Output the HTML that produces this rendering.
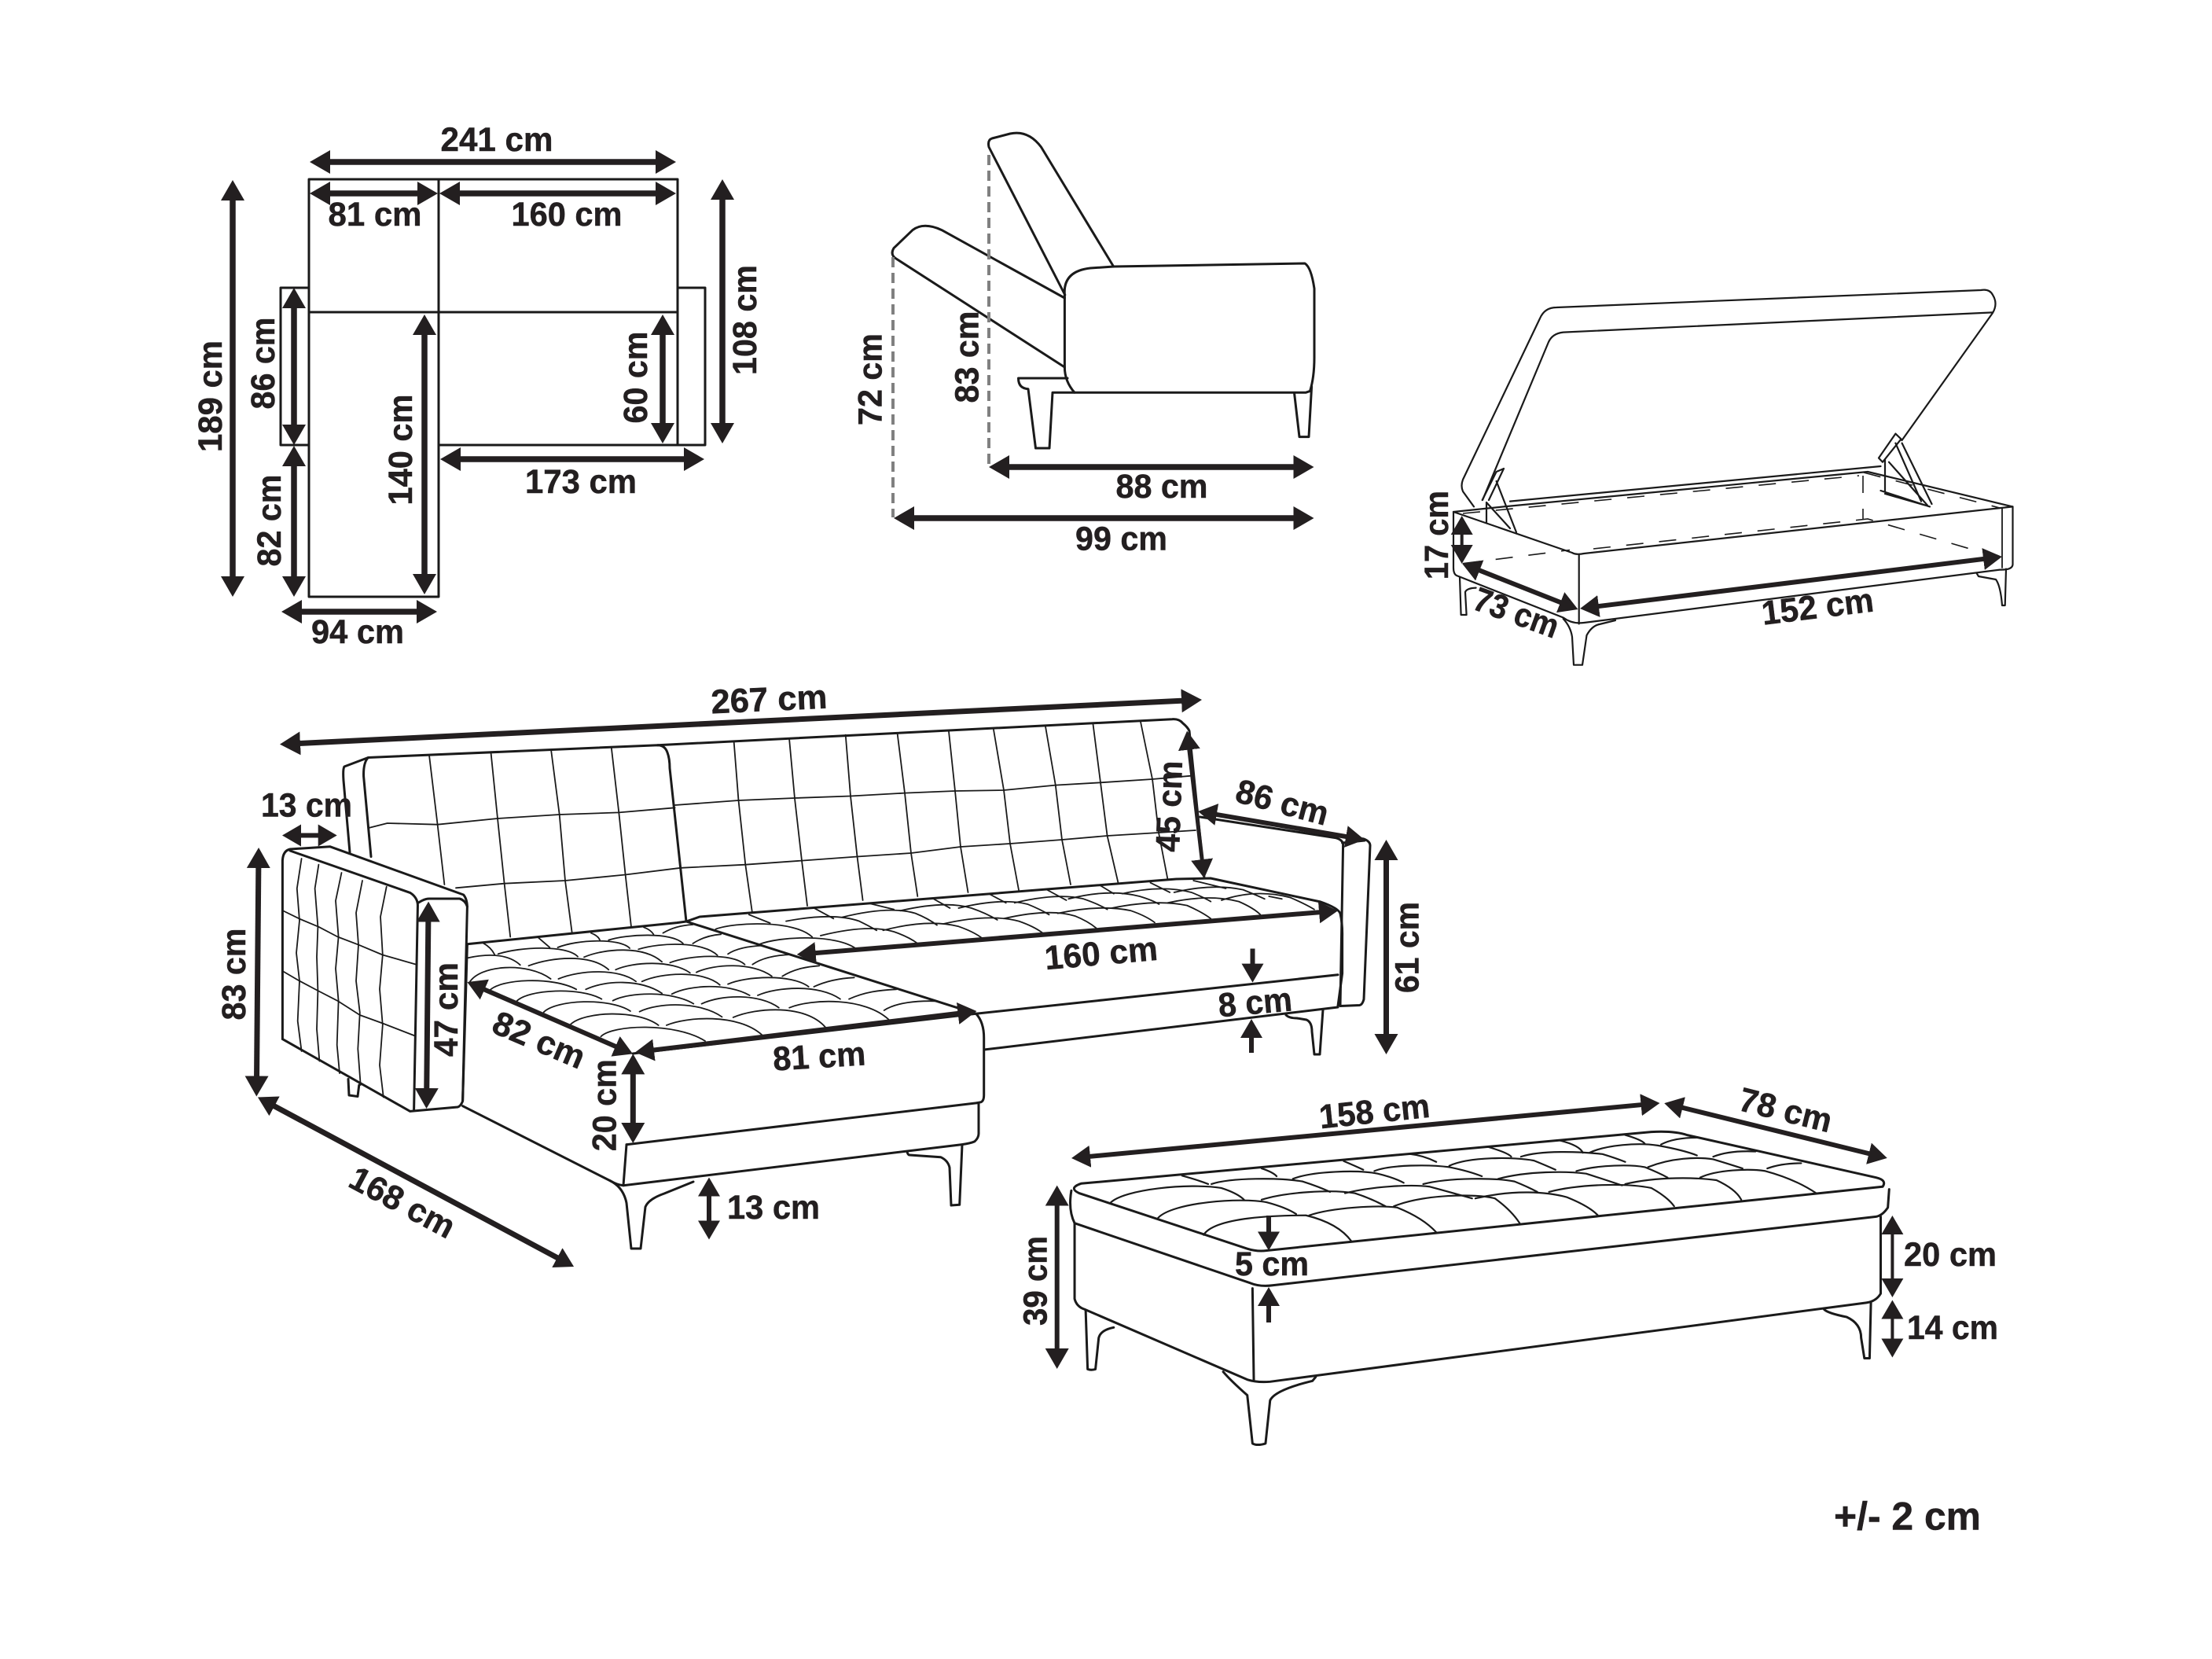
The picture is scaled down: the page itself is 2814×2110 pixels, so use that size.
<!DOCTYPE html>
<html><head><meta charset="utf-8"><title>Sofa dimensions</title>
<style>
html,body{margin:0;padding:0;background:#fff}
svg{display:block}
text{font-family:"Liberation Sans",sans-serif;font-weight:700;font-size:43px;fill:#231f20;stroke:#231f20;stroke-width:.5;text-anchor:middle}
path,polyline,line{vector-effect:non-scaling-stroke}
.o{fill:none;stroke:#1a1a1a;stroke-width:3;stroke-linejoin:round;stroke-linecap:round}
.m{fill:none;stroke:#1a1a1a;stroke-width:2.2;stroke-linejoin:round;stroke-linecap:round}
.t{fill:none;stroke:#1a1a1a;stroke-width:1.8;stroke-linejoin:round;stroke-linecap:round}
.d{fill:none;stroke:#1a1a1a;stroke-width:1.6;stroke-dasharray:22 20}
.g{fill:none;stroke:#808080;stroke-width:4;stroke-dasharray:13 7}
.a{stroke:#231f20;stroke-width:7.5;marker-start:url(#h);marker-end:url(#h);fill:none}
.b{stroke:#231f20;stroke-width:6;marker-start:url(#s);marker-end:url(#s);fill:none}
.e{stroke:#231f20;stroke-width:6;marker-end:url(#s);fill:none}
</style></head><body>
<svg xmlns="http://www.w3.org/2000/svg" width="2814" height="2110" viewBox="0 0 2814 2110">
<defs>
<marker id="h" markerUnits="userSpaceOnUse" markerWidth="30" markerHeight="34" refX="18" refY="16" orient="auto-start-reverse" viewBox="0 0 30 34"><path d="M0 1L26 16L0 31Z" fill="#231f20"/></marker>
<marker id="s" markerUnits="userSpaceOnUse" markerWidth="28" markerHeight="32" refX="16" refY="15" orient="auto-start-reverse" viewBox="0 0 28 32"><path d="M0 1L24 15L0 29Z" fill="#231f20"/></marker>
</defs>
<rect width="2814" height="2110" fill="#fff"/>

<!-- plan -->
<g class="o">
<path d="M393 228H862V566H558V759H393Z"/>
<path d="M393 397H862M558 228V566M393 366H357V566H393M862 366H897V566H862"/>
</g>
<line class="a" x1="402" y1="206" x2="852" y2="206"/>
<line class="a" x1="402" y1="246" x2="549" y2="246"/>
<line class="a" x1="567" y1="246" x2="852" y2="246"/>
<line class="a" x1="296" y1="237" x2="296" y2="751"/>
<line class="a" x1="919" y1="236" x2="919" y2="556"/>
<line class="a" x1="374" y1="374" x2="374" y2="558"/>
<line class="a" x1="374" y1="575" x2="374" y2="751"/>
<line class="a" x1="540" y1="408" x2="540" y2="748"/>
<line class="a" x1="843" y1="408" x2="843" y2="556"/>
<line class="a" x1="568" y1="584" x2="888" y2="584"/>
<line class="a" x1="366" y1="778" x2="548" y2="778"/>
<text transform="translate(632 192)" textLength="143" lengthAdjust="spacingAndGlyphs">241 cm</text>
<text transform="translate(477 287)" textLength="119" lengthAdjust="spacingAndGlyphs">81 cm</text>
<text transform="translate(721 287)" textLength="141" lengthAdjust="spacingAndGlyphs">160 cm</text>
<text transform="translate(282 504) rotate(-90)" textLength="142" lengthAdjust="spacingAndGlyphs">189 cm</text>
<text transform="translate(349 462) rotate(-90)" textLength="117" lengthAdjust="spacingAndGlyphs">86 cm</text>
<text transform="translate(357 662) rotate(-90)" textLength="117" lengthAdjust="spacingAndGlyphs">82 cm</text>
<text transform="translate(524 572) rotate(-90)" textLength="141" lengthAdjust="spacingAndGlyphs">140 cm</text>
<text transform="translate(823 480) rotate(-90)" textLength="117" lengthAdjust="spacingAndGlyphs">60 cm</text>
<text transform="translate(962 407) rotate(-90)" textLength="140" lengthAdjust="spacingAndGlyphs">108 cm</text>
<text transform="translate(739 627)" textLength="142" lengthAdjust="spacingAndGlyphs">173 cm</text>
<text transform="translate(455 818)" textLength="118" lengthAdjust="spacingAndGlyphs">94 cm</text>

<!-- side view -->
<g class="o">
<path d="M1354.8 375L1258 187Q1256 178 1262 176L1285 170Q1308 165 1324.5 187L1416.6 339"/>
<path d="M1416.6 339L1660 335Q1668 340 1672 367V455Q1672 480 1666.5 497.4L1661 499.3H1367Q1354.4 485 1354.4 467V375Q1352 345 1387 341L1416.6 339"/>
<path d="M1354.4 379L1198 292.6Q1175 282 1161 292.6L1137 315.6Q1132 324 1140 329L1354.4 467"/>
<path d="M1358 481H1295.5Q1295.5 494 1308 494.7L1317.5 570H1335L1339 499.3H1367"/>
<path d="M1646.6 500.5L1653 555.6H1665L1668.6 491.6"/>
</g>
<line class="g" x1="1258" y1="197" x2="1258" y2="593"/>
<line class="g" x1="1136" y1="327" x2="1136" y2="658"/>
<line class="a" x1="1266" y1="594" x2="1663.5" y2="594"/>
<line class="a" x1="1145" y1="659" x2="1663.5" y2="659"/>
<text transform="translate(1478 633)" textLength="117" lengthAdjust="spacingAndGlyphs">88 cm</text>
<text transform="translate(1426.5 699.5)" textLength="117" lengthAdjust="spacingAndGlyphs">99 cm</text>
<text transform="translate(1121.5 482.5) rotate(-90)" textLength="117" lengthAdjust="spacingAndGlyphs">72 cm</text>
<text transform="translate(1244.5 454) rotate(-90)" textLength="117" lengthAdjust="spacingAndGlyphs">83 cm</text>

<!-- storage box -->
<g class="m">
<path d="M1875 644.4L1861 625Q1858 618 1861 610L1959 405Q1965 391 1980 391L2520 369Q2531 367 2535 375Q2542 386 2535 398L2419.5 560"/>
<path d="M2535 397.4L1988.7 422.6Q1975 424 1970 435L1886 636"/>
<path d="M1849 651L2000 703Q2005 706 2015 704L2560.5 644.4L2376 600L1913 644.4L1849 651"/>
<path d="M2392.5 593L1921 637.6"/>
<path d="M1849 651V722Q1849 730 1853 732L1988.7 785.5Q2000 794 2015 792L2544 724.6Q2560 725 2560.5 718V644.4"/>
<path d="M2008.7 705V793.4"/>
<path d="M1988.7 787Q1998 797 2000 810L2002 845.7H2013L2018.5 808Q2025 796 2034.7 794L2055 789"/>
<path d="M1857 734L1858.6 782H1865.6L1864 753Q1866 748 1877.6 747.6"/>
<path d="M2514.4 728.7L2517 733L2539 737Q2545 745 2547 770H2550.7L2552 723.6"/>
<path d="M1913 596L1903.6 600L1885.7 636M1913 596L1894 636M1903.6 612L1929 677M1891 639L1921 672M1891 639V665"/>
<path d="M2411.4 551.6L2390 582.5L2395 587.7L2418.5 558.4L2411.4 551.6M2419.6 563.6L2457.5 641M2411.4 563.6L2444 637.6M2398 584V625.5M2403 587.7L2452 642.7M2392.5 624L2455 644.4M2398 628L2449.4 642.7"/>
</g>
<path class="t" d="M2547 646V722"/>
<path class="d" d="M1861 653L2365 605M2370 605V660M2027 698L2376 660L2547 710M1861 716.7L1997 699.5M2371 601L2544 646"/>
<line class="b" x1="1859.7" y1="664" x2="1859.7" y2="709" style="stroke-width:4"/>
<line class="b" x1="1867.4" y1="719.6" x2="2000" y2="772"/>
<line class="b" x1="2018" y1="773" x2="2539" y2="709"/>
<text transform="translate(1842 680.6) rotate(-90)" textLength="113" lengthAdjust="spacingAndGlyphs">17 cm</text>
<text transform="translate(1924 793) rotate(20)" textLength="112" lengthAdjust="spacingAndGlyphs">73 cm</text>
<text transform="translate(2314 786) rotate(-7)" textLength="143" lengthAdjust="spacingAndGlyphs">152 cm</text>

<!-- sofa -->
<g class="o">
<path d="M445 1084L437 992.6Q436 978 438 975L468.4 963.5"/>
<path d="M472 1089.5L462.6 987.5Q462 970 468.4 963.5L836.8 947.7Q846 948 849 957Q852 965 852 977L873 1172"/>
<path d="M836.8 947.7L1491 914.7Q1500 914 1504.6 919.7Q1511 925 1513 929.6L1532 1117"/>
<path d="M594.4 1200.7L861 1173.6L873 1172L890 1166L1496.4 1118L1540 1117L1680 1147Q1703 1155 1705 1162Q1708 1175 1707.6 1191.6V1238L1702 1279.5"/>
<path d="M873 1172L1241.7 1289.3Q1251.7 1300 1251.7 1320V1393Q1251.7 1400 1248 1401.7L1243 1402.7"/>
<path d="M1526.6 1039L1699 1065.6Q1708 1068 1708.6 1074L1705 1279.5"/>
<path d="M1529 1032L1735 1067Q1743 1070 1743 1075.5L1735 1271Q1733 1278 1729.5 1278.5L1705 1279.5"/>
<path d="M1707.6 1072L1736 1069"/>
<path d="M1241.7 1289.3L1702 1239.7M1252 1335L1702 1281"/>
<path d="M805 1340L1241.7 1289.3"/>
<path d="M797 1455.7L1243 1402.7M793 1507.7L1223 1455.7Q1235 1454 1240 1451.7Q1245 1447 1245 1441.7V1403.3"/>
<path d="M1154 1465Q1155 1469 1157 1469L1196.7 1471.7Q1206 1476 1208 1485L1210 1533L1220.7 1532.3L1224 1456"/>
<path d="M588.6 1406.7L776 1501.6Q785 1507 793 1507.7L797 1455.7"/>
<path d="M776 1501.6Q793 1510 797 1530L803 1588H815L821 1535Q825 1525 845 1518L882 1503"/>
<path d="M1636 1291Q1640 1295 1650 1295L1662 1297Q1669 1300 1669 1312L1672 1341H1679L1683 1284"/>
<path d="M594.4 1200.7L588.6 1400"/>
<path d="M359.4 1321.6V1094.6Q360 1082 369 1080L420 1076.8L589.6 1138Q594 1143 594.4 1153L588.6 1400.6Q586 1407 582.3 1408L521.7 1413.4L359.4 1321.6"/>
<path d="M369 1082L521.7 1135.4Q532 1142 531.4 1153L526.6 1411"/>
<path d="M532.4 1148Q540 1143 546 1143H584.7Q592 1145 594.4 1153"/>
<path d="M443 1372.5L444 1393L455 1394.5L456.8 1380"/>
</g>
<!-- arm tufts -->
<g class="t">
<polyline points="383.6,1092 377.8,1130 381,1171 377,1212 381,1247.6 378.7,1298.6 383.6,1337"/>
<polyline points="405.4,1099.7 400.6,1130 404.4,1178.8 403,1217 404.4,1260 403,1309 406.4,1349.6"/>
<polyline points="434.5,1110 427,1145.6 430.6,1191.5 427,1232 430.6,1273 428.7,1329 432,1365"/>
<polyline points="461,1120 453,1161 456,1201.7 453,1247.6 457.8,1288 455.3,1334 458.7,1380"/>
<polyline points="491.7,1127.8 484,1166 486.8,1214.5 483,1258 486.8,1303.7 483,1354.7 487.8,1395.5"/>
<polyline points="359.4,1158 381,1168.6 405.4,1178.8 429.6,1191.5 456.3,1201.7 486.8,1214.5 530.5,1227"/>
<polyline points="359.4,1235 381,1247.6 404.4,1260 429.6,1273 457.8,1291 485.4,1301 528,1317.5"/>
<!-- back tufts -->
<polyline points="546,960.5 556.6,1048.7 565.4,1125"/>
<polyline points="624.5,957 633,1041 641.5,1122.7 649.2,1191.5"/>
<polyline points="701,953.3 711.7,1036 719,1120 727.7,1186.4"/>
<polyline points="777.7,950 787.3,1033.4 795.6,1112.5 803,1178.8"/>
<polyline points="470,1052.8 492.7,1047 556.6,1048.7 633,1041 711.7,1036 787.3,1033.4 858.6,1027.3"/>
<polyline points="580,1129.3 641.5,1123.7 719,1120 795.6,1112.5 866,1103.8"/>
<polyline points="933.7,944 939.5,1018 948.3,1099.7 957,1161"/>
<polyline points="1004,939 1011,1015.6 1020,1094.6 1027,1152"/>
<polyline points="858.6,1024 939.5,1018 1011,1015 1082,1012.5 1151,1008.6 1215,1006 1277,1005 1342.8,998.6 1400,995.3 1466,991 1515.6,986.7"/>
<polyline points="866,1103.8 948.3,1099.7 1020,1094.6 1090.5,1089.5 1159,1085 1222,1077 1285,1073 1351,1068 1408.6,1063 1474,1059 1521,1056"/>
<polyline points="1075.7,934.6 1082,1012.5 1090.5,1089.5 1097.6,1145"/>
<polyline points="1141.5,932 1151,1008.6 1159,1085 1167.3,1140"/>
<polyline points="1207,930.3 1215,1006 1222,1077 1231.5,1135"/>
<polyline points="1264,928 1277,1005 1285,1073 1296,1132"/>
<polyline points="1330,924 1342.8,998.6 1351,1068 1362,1125"/>
<polyline points="1390.5,921 1400,995.3 1408.6,1063 1422.3,1122"/>
<polyline points="1451,918 1466,991 1474,1059 1485.4,1118"/>
</g>
<!-- chaise seat arcs, coordinates in crop space -->
<g class="t" transform="translate(560 1130) scale(.4464 .3333)">
<path d="M458 565C490 520 670 510 755 582"/>
<path d="M372 518C410 470 560 460 622 522"/>
<path d="M295 472C330 425 480 415 542 468"/>
<path d="M218 430C250 385 400 375 460 422"/>
<path d="M140 390C170 345 320 335 388 385"/>
<path d="M82 362C110 290 250 280 315 345"/>
<path d="M645 522C700 490 850 475 918 560"/>
<path d="M568 470C620 435 740 430 803 490"/>
<path d="M492 428C540 395 660 390 722 440"/>
<path d="M415 385C470 350 570 345 632 400"/>
<path d="M337 345C400 310 510 305 558 355"/>
<path d="M252 295C320 260 430 250 480 310"/>
<path d="M165 250C230 222 360 215 392 260"/>
<path d="M78 265C130 250 190 245 228 292"/>
<path d="M835 492C900 455 1040 440 1098 530"/>
<path d="M745 440C800 405 910 400 965 455"/>
<path d="M660 403C710 368 820 360 882 408"/>
<path d="M575 355C630 320 750 312 797 368"/>
<path d="M500 310C550 280 660 272 712 322"/>
<path d="M410 262C470 228 580 218 632 280"/>
<path d="M335 225C390 195 510 188 540 228"/>
<path d="M280 188L312 225M122 208Q145 225 155 252M430 170Q450 180 455 197M580 148Q600 158 608 175"/>
<path d="M995 455C1060 420 1210 415 1278 500"/>
<path d="M905 408C960 375 1080 365 1140 422"/>
<path d="M820 365C870 335 1000 325 1050 375"/>
<path d="M730 320C780 288 890 280 945 335"/>
<path d="M655 283C710 255 830 245 868 290"/>
<path d="M565 232C630 205 750 202 790 255"/>
<path d="M480 197C530 175 660 165 692 210"/>
<path d="M1165 422C1210 395 1250 388 1300 385"/>
<path d="M1265 465C1300 435 1360 428 1410 430"/>
<path d="M1065 375C1105 350 1150 342 1180 340"/>
<path d="M975 335C1010 305 1050 298 1080 295"/>
<path d="M890 290C920 262 960 254 1000 252"/>
<path d="M820 250C845 228 880 220 920 218"/>
<path d="M720 210C745 188 770 178 800 175"/>
<path d="M635 170C660 150 690 140 720 138"/>
<path d="M785 155C840 128 1010 120 1060 185"/>
<path d="M905 215C970 180 1130 175 1185 230"/>
<path d="M880 100L940 132"/>
</g>
<!-- seat arcs -->
<g class="t" transform="translate(1000 860) scale(.5485 .3333)">
<path d="M80 990Q190 945 250 975Q285 995 305 1020"/>
<path d="M225 970Q330 925 400 955Q435 975 455 1000"/>
<path d="M365 945Q470 905 540 935Q575 955 595 980"/>
<path d="M505 925Q610 885 670 915Q700 935 720 962"/>
<path d="M630 905Q730 870 800 895Q835 915 855 940"/>
<path d="M755 885Q860 850 930 875Q965 900 985 925"/>
<path d="M885 865Q980 830 1050 860Q1085 885 1100 910"/>
<path d="M1010 855Q1090 810 1170 845Q1205 870 1225 890"/>
<path d="M0 935Q110 900 170 935Q195 955 210 970"/>
<path d="M130 920Q240 875 300 905Q330 925 350 950"/>
<path d="M265 895Q370 855 430 885Q465 905 490 930"/>
<path d="M400 885Q500 845 560 870Q590 890 610 910"/>
<path d="M530 865Q630 825 690 850Q725 870 745 890"/>
<path d="M655 850Q750 810 820 840Q850 855 865 870"/>
<path d="M780 830Q870 795 940 825Q970 845 985 860"/>
<path d="M900 825Q990 790 1060 815Q1090 835 1110 850"/>
<path d="M65 885L110 925M195 868L250 890M340 848L380 885M470 830L510 865M605 815L650 855M730 800L760 830M845 788L890 825M945 780L1020 810M1120 840L1150 850"/>
</g>
<line class="a" style="stroke-width:7" x1="364" y1="946.3" x2="1521" y2="890.4"/>
<line class="b" x1="367" y1="1062.5" x2="420.7" y2="1062.5"/>
<line class="a" style="stroke-width:7" x1="329" y1="1086" x2="326.4" y2="1386.5"/>
<line class="a" style="stroke-width:7" x1="545" y1="1154.6" x2="542.6" y2="1402"/>
<line class="b" x1="601.7" y1="1252.2" x2="797.7" y2="1337.2"/>
<line class="b" x1="816" y1="1337.4" x2="1234.5" y2="1287"/>
<line class="a" style="stroke-width:7" x1="805.3" y1="1348.4" x2="805.3" y2="1446"/>
<line class="b" style="stroke-width:7" x1="335" y1="1399.3" x2="723" y2="1607.2"/>
<line class="b" x1="902" y1="1505.5" x2="902" y2="1568.5"/>
<line class="b" x1="1021.7" y1="1213.4" x2="1694" y2="1159"/>
<line class="b" style="stroke-width:5" x1="1511" y1="937.6" x2="1531" y2="1109"/>
<line class="b" x1="1532" y1="1033.3" x2="1728" y2="1066.7"/>
<line class="a" style="stroke-width:7" x1="1763.5" y1="1076" x2="1763.5" y2="1333"/>
<line class="e" x1="1593.5" y1="1206.5" x2="1593.5" y2="1241.6"/>
<line class="e" x1="1592" y1="1339" x2="1592" y2="1304"/>
<text transform="translate(979 904) rotate(-2.6)" textLength="148" lengthAdjust="spacingAndGlyphs">267 cm</text>
<text transform="translate(390 1038.5)" textLength="116" lengthAdjust="spacingAndGlyphs">13 cm</text>
<text transform="translate(312 1239) rotate(-90)" textLength="117" lengthAdjust="spacingAndGlyphs">83 cm</text>
<text transform="translate(582 1284) rotate(-90)" textLength="120" lengthAdjust="spacingAndGlyphs">47 cm</text>
<text transform="translate(680 1336) rotate(23)" textLength="123" lengthAdjust="spacingAndGlyphs">82 cm</text>
<text transform="translate(1043 1358) rotate(-3.5)" textLength="118" lengthAdjust="spacingAndGlyphs">81 cm</text>
<text transform="translate(783.5 1405.7) rotate(-90)" textLength="117" lengthAdjust="spacingAndGlyphs">20 cm</text>
<text transform="translate(505 1542) rotate(28)" textLength="145" lengthAdjust="spacingAndGlyphs">168 cm</text>
<text transform="translate(984 1550)" textLength="118" lengthAdjust="spacingAndGlyphs">13 cm</text>
<text transform="translate(1402 1227) rotate(-5)" textLength="144" lengthAdjust="spacingAndGlyphs">160 cm</text>
<text transform="translate(1502 1026) rotate(-88)" textLength="116" lengthAdjust="spacingAndGlyphs">45 cm</text>
<text transform="translate(1627.5 1034.5) rotate(15)" textLength="120" lengthAdjust="spacingAndGlyphs">86 cm</text>
<text transform="translate(1804.6 1205) rotate(-90)" textLength="116" lengthAdjust="spacingAndGlyphs">61 cm</text>
<text transform="translate(1598 1289.4) rotate(-5)" textLength="94" lengthAdjust="spacingAndGlyphs">8 cm</text>

<!-- ottoman, coordinates in crop space -->
<g transform="translate(1280 1370) scale(.829 .3316)">
<g class="o">
<path d="M115 408L990 210Q1025 205 1045 222L1335 385Q1352 395 1345 420L400 665Q385 670 370 658L112 445Q95 425 115 408Z"/>
<path d="M100 435Q95 510 105 560L375 790Q390 805 410 798L1335 535Q1345 530 1353 500L1355 430"/>
<path d="M105 560V850Q108 880 120 890L370 1160Q385 1172 405 1168L1320 865Q1335 860 1342 830V535"/>
<path d="M378 810Q378 820 380 1160"/>
<path d="M333 1130Q345 1165 370 1220L378 1405Q385 1415 398 1405L405 1240Q412 1200 470 1165L475 1150"/>
<path d="M122 895L125 1120Q130 1125 137 1120L142 1000Q145 970 165 960"/>
<path d="M1255 890Q1260 905 1290 920Q1312 945 1312 1000L1317 1078H1325L1327 865"/>
</g>
<g class="m">
<path d="M160 482C180 430 280 405 330 425Q355 445 365 470"/>
<path d="M233 540C255 480 360 460 400 480Q430 500 445 525"/>
<path d="M303 605C320 535 420 530 460 530Q510 560 530 630"/>
<path d="M315 410C345 385 420 385 455 400Q480 420 497 440"/>
<path d="M392 470C430 440 500 430 535 445Q560 465 582 495"/>
<path d="M465 530C500 500 570 490 600 500Q640 540 660 595"/>
<path d="M440 390C470 360 540 355 570 370Q595 385 610 405"/>
<path d="M520 445C560 420 620 410 650 420Q680 440 715 465"/>
<path d="M595 495C640 450 720 445 750 465Q775 510 788 560"/>
<path d="M565 360C590 335 650 335 680 345Q710 360 730 380"/>
<path d="M640 410C680 385 750 385 780 400Q800 420 815 440"/>
<path d="M720 465C780 430 830 440 860 460Q895 495 908 530"/>
<path d="M680 340C710 305 780 305 810 320Q825 335 843 355"/>
<path d="M755 390C800 360 860 360 890 370Q915 390 945 415"/>
<path d="M833 440C880 410 950 405 990 425Q1015 460 1025 495"/>
<path d="M790 305C820 280 880 285 915 295Q935 310 950 325"/>
<path d="M875 360C910 335 960 335 980 345Q1000 365 1015 385"/>
<path d="M950 410C1000 380 1060 385 1090 395Q1120 430 1128 470"/>
<path d="M895 290C920 260 970 250 1000 262Q1040 280 1060 300"/>
<path d="M985 345C1020 310 1060 305 1085 315Q1105 330 1130 350"/>
<path d="M1065 385C1090 355 1140 350 1165 360Q1210 390 1243 445"/>
<path d="M1005 258Q1025 232 1060 232M1085 305Q1110 280 1150 285M1168 350Q1190 330 1220 330"/>
<path d="M270 378Q295 395 310 410M392 350Q410 365 415 380M518 322Q535 340 548 355M620 295Q640 300 660 325M740 268Q770 290 775 305M850 243Q880 262 885 290M950 222Q975 240 980 255"/>
</g>
</g>
<line class="b" x1="1371" y1="1472.3" x2="2103.5" y2="1403.7"/>
<line class="b" x1="2125" y1="1405" x2="2393" y2="1471"/>
<line class="a" style="stroke-width:6" x1="1344.7" y1="1515.6" x2="1344.7" y2="1733"/>
<line class="b" style="stroke-width:4" x1="2407.4" y1="1554" x2="2407.4" y2="1642"/>
<line class="b" style="stroke-width:4" x1="2407.4" y1="1661.5" x2="2407.4" y2="1718.5"/>
<line class="e" x1="1614" y1="1546" x2="1614" y2="1582.5"/>
<line class="e" x1="1614" y1="1682" x2="1614" y2="1645"/>
<text transform="translate(1750 1428) rotate(-6)" textLength="141" lengthAdjust="spacingAndGlyphs">158 cm</text>
<text transform="translate(2268 1426) rotate(14)" textLength="120" lengthAdjust="spacingAndGlyphs">78 cm</text>
<text transform="translate(1331.4 1629) rotate(-90)" textLength="114" lengthAdjust="spacingAndGlyphs">39 cm</text>
<text transform="translate(1618 1622)" textLength="94" lengthAdjust="spacingAndGlyphs">5 cm</text>
<text transform="translate(2481 1610)" textLength="118" lengthAdjust="spacingAndGlyphs">20 cm</text>
<text transform="translate(2484 1703)" textLength="116" lengthAdjust="spacingAndGlyphs">14 cm</text>
<text transform="translate(2426.5 1945.7)" style="font-size:50px" textLength="187" lengthAdjust="spacingAndGlyphs">+/- 2 cm</text>
</svg>
</body></html>
